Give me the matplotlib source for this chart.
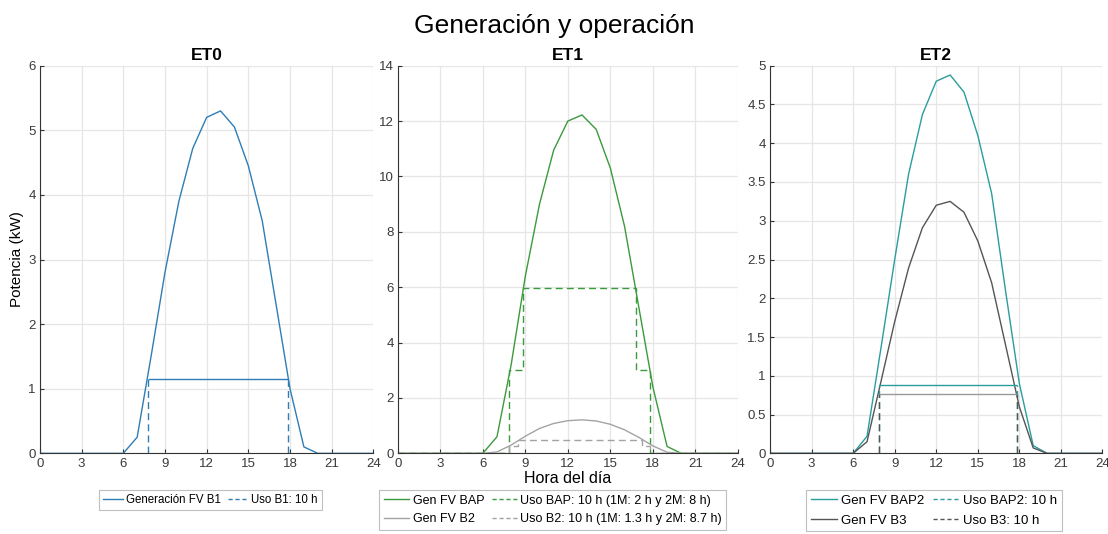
import matplotlib.pyplot as plt
from matplotlib.ticker import FormatStrFormatter

plt.rcParams['font.family'] = ['Liberation Sans', 'DejaVu Sans']

# Hourly values (kW), hours 0..24
hours = list(range(25))
gen_b1 = [0, 0, 0, 0, 0, 0, 0, 0.25, 1.5, 2.8, 3.9, 4.72, 5.2, 5.3, 5.05, 4.45, 3.6, 2.3, 1.0, 0.1, 0, 0, 0, 0, 0]
gen_bap = [0, 0, 0, 0, 0, 0, 0, 0.6, 3.2, 6.4, 9.0, 10.95, 12.0, 12.22, 11.7, 10.3, 8.2, 5.3, 2.4, 0.25, 0, 0, 0, 0, 0]
gen_b2 = [0, 0, 0, 0, 0, 0, 0, 0.05, 0.3, 0.62, 0.9, 1.08, 1.18, 1.21, 1.17, 1.05, 0.85, 0.58, 0.27, 0.04, 0, 0, 0, 0, 0]
gen_bap2 = [0, 0, 0, 0, 0, 0, 0, 0.22, 1.35, 2.5, 3.6, 4.37, 4.8, 4.88, 4.66, 4.1, 3.35, 2.1, 0.9, 0.1, 0, 0, 0, 0, 0]
gen_b3 = [0, 0, 0, 0, 0, 0, 0, 0.15, 0.92, 1.7, 2.39, 2.91, 3.2, 3.25, 3.11, 2.74, 2.2, 1.4, 0.6, 0.07, 0, 0, 0, 0, 0]

# Usage (operation) profiles: start/end hour and power level (kW)
uso_b1_span = [7.75, 17.85]
uso_b1_level = 1.15
uso_bap_edges = [0, 7.85, 8.85, 16.8, 17.8, 24]
uso_bap_vals = [0, 3.0, 5.97, 3.0, 0]
uso_b2_edges = [0, 7.85, 8.5, 17.2, 17.8, 24]
uso_b2_vals = [0, 0.25, 0.49, 0.25, 0]
uso_bap2_span = [7.85, 17.8]
uso_bap2_level = 0.88
uso_b3_span = [7.85, 17.8]
uso_b3_level = 0.77

c_blue = '#2f7db5'
c_green = '#3b9a3b'
c_lgray = '#a3a3a3'
c_teal = '#2a9d9d'
c_dgray = '#555555'
dash = (5, 3)

fig = plt.figure(figsize=(11.08, 5.34), dpi=100)
bottom, top = 0.151, 0.877
ax0 = fig.add_axes([0.036, bottom, 0.301, top - bottom])
ax1 = fig.add_axes([0.359, bottom, 0.307, top - bottom])
ax2 = fig.add_axes([0.695, bottom, 0.300, top - bottom])

def style(ax, ymax, ystep, title):
    ax.set_xlim(0, 24)
    ax.set_ylim(0, ymax)
    ax.set_xticks(range(0, 25, 3))
    n = int(round(ymax / ystep))
    ax.set_yticks([i * ystep for i in range(n + 1)])
    ax.yaxis.set_major_formatter(FormatStrFormatter('%g'))
    ax.grid(True, color='#e6e6e6', linewidth=0.9)
    ax.set_axisbelow(True)
    for s in ['top', 'right']:
        ax.spines[s].set_visible(False)
    for s in ['left', 'bottom']:
        ax.spines[s].set_color('#333333')
        ax.spines[s].set_linewidth(0.8)
    ax.tick_params(direction='in', length=3, labelsize=9.5, colors='#333333',
                   labelcolor='#3a3a3a', pad=3)
    ax.set_title(title, fontsize=12.5, fontweight='bold', pad=4)

def usage_block(ax, span, level, vcolor, hcolor):
    # dashed rise/fall, solid top (as in the original rendering)
    ax.vlines(span, 0, level, color=vcolor, lw=1.0, linestyle=(0, dash))
    ax.hlines(level, span[0], span[1], color=hcolor, lw=1.0)

def legend(handles, labels, xc, size, hlen):
    lg = fig.legend(handles, labels, loc='upper center', bbox_to_anchor=(xc, 0.082),
                    ncol=2, fontsize=size, frameon=True, fancybox=False,
                    handlelength=hlen, handletextpad=0.3, columnspacing=0.6,
                    borderpad=0.35, labelspacing=0.55, borderaxespad=0)
    lg.get_frame().set_edgecolor('#b0b0b0')
    lg.get_frame().set_linewidth(0.8)

# ET0
l1, = ax0.plot(hours, gen_b1, color=c_blue, lw=1.0)
usage_block(ax0, uso_b1_span, uso_b1_level, c_blue, c_blue)
style(ax0, 6, 1, 'ET0')
ax0.set_ylabel('Potencia (kW)', fontsize=11, labelpad=3)
h_u1, = ax0.plot([], [], color=c_blue, lw=1.0, linestyle=(0, (3, 2)))
legend([l1, h_u1], ['Generación FV B1', 'Uso B1: 10 h'], 0.19, 8.3, 1.7)

# ET1
l2, = ax1.plot(hours, gen_bap, color=c_green, lw=1.0)
ax1.stairs(uso_bap_vals, uso_bap_edges, baseline=None, color=c_green, lw=1.0, linestyle=(0, dash))
l3, = ax1.plot(hours, gen_b2, color=c_lgray, lw=1.0)
ax1.stairs(uso_b2_vals, uso_b2_edges, baseline=None, color=c_lgray, lw=1.0, linestyle=(0, dash))
style(ax1, 14, 2, 'ET1')
ax1.set_xlabel('Hora del día', fontsize=11.5, labelpad=1)
h_u2, = ax1.plot([], [], color=c_green, lw=1.0, linestyle=(0, (3, 2)))
h_u3, = ax1.plot([], [], color=c_lgray, lw=1.0, linestyle=(0, (3, 2)))
legend([l2, l3, h_u2, h_u3],
       ['Gen FV BAP', 'Gen FV B2', 'Uso BAP: 10 h (1M: 2 h y 2M: 8 h)',
        'Uso B2: 10 h (1M: 1.3 h y 2M: 8.7 h)'], 0.499, 9, 2.0)

# ET2
l4, = ax2.plot(hours, gen_bap2, color=c_teal, lw=1.0)
l5, = ax2.plot(hours, gen_b3, color=c_dgray, lw=1.0)
usage_block(ax2, uso_bap2_span, uso_bap2_level, c_teal, c_teal)
usage_block(ax2, uso_b3_span, uso_b3_level, c_dgray, '#999999')
style(ax2, 5, 0.5, 'ET2')
h_u4, = ax2.plot([], [], color=c_teal, lw=1.0, linestyle=(0, (3, 2)))
h_u5, = ax2.plot([], [], color=c_dgray, lw=1.0, linestyle=(0, (3, 2)))
legend([l4, l5, h_u4, h_u5],
       ['Gen FV BAP2', 'Gen FV B3', 'Uso BAP2: 10 h', 'Uso B3: 10 h'], 0.843, 9.5, 2.0)

fig.suptitle('Generación y operación', fontsize=19, y=0.973)

fig.savefig('out.png', dpi=100)
